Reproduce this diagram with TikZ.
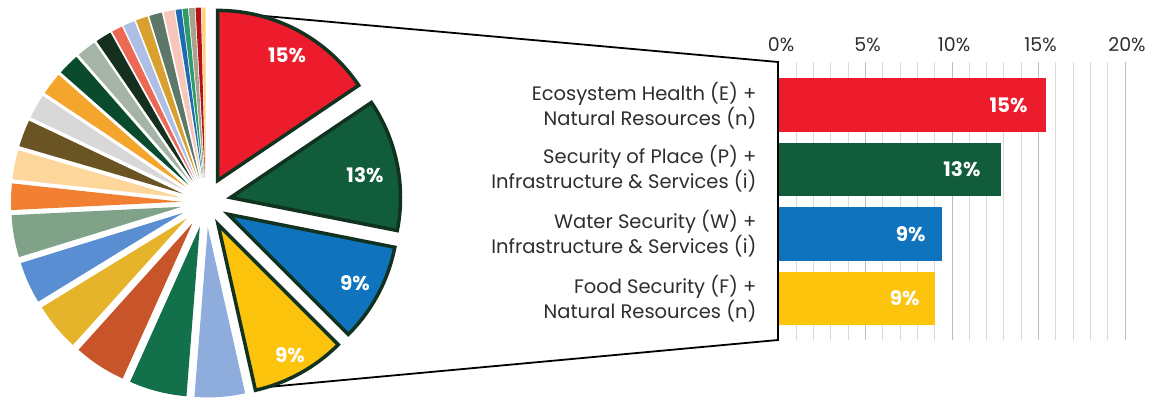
\documentclass[tikz,border=0pt]{standalone}
\usepackage{fontspec}
\setmainfont{Poppins}
\usetikzlibrary{calc}
\definecolor{c1}{HTML}{FFD27F}
\definecolor{c2}{HTML}{B5121B}
\definecolor{c3}{HTML}{A8A28C}
\definecolor{c4}{HTML}{2F9B6B}
\definecolor{c5}{HTML}{1F6BB0}
\definecolor{c6}{HTML}{F7C6BA}
\definecolor{c7}{HTML}{5D7868}
\definecolor{c8}{HTML}{D8A02E}
\definecolor{c9}{HTML}{ADBFE5}
\definecolor{c10}{HTML}{EC6A55}
\definecolor{c11}{HTML}{15301F}
\definecolor{c12}{HTML}{A5B4A6}
\definecolor{c13}{HTML}{0A4A2D}
\definecolor{c14}{HTML}{F4A52B}
\definecolor{c15}{HTML}{D8D8D8}
\definecolor{c16}{HTML}{6B5424}
\definecolor{c17}{HTML}{FDD69C}
\definecolor{c18}{HTML}{F18033}
\definecolor{c19}{HTML}{7FA289}
\definecolor{c20}{HTML}{5A8ED3}
\definecolor{c21}{HTML}{E5B42B}
\definecolor{c22}{HTML}{C8552A}
\definecolor{c23}{HTML}{12704A}
\definecolor{c24}{HTML}{8EADDD}
\definecolor{myred}{HTML}{EC1C2D}
\definecolor{mygreen}{HTML}{115C3A}
\definecolor{myblue}{HTML}{0F73BD}
\definecolor{myyellow}{HTML}{FDC40E}
\definecolor{outl}{HTML}{10321F}
\definecolor{txt}{HTML}{2E2E2E}
\definecolor{gridminor}{HTML}{DADADA}
\definecolor{gridmajor}{HTML}{BDBDBD}
\begin{document}
\begin{tikzpicture}[x=1pt,y=1pt,
  pielabel/.style={text=white,font=\fontsize{20}{22}\selectfont\bfseries},
  barlabel/.style={text=white,font=\fontsize{20}{22}\selectfont\bfseries,anchor=east},
  catlabel/.style={text=txt,font=\fontsize{19.5}{25}\selectfont,align=right,anchor=east},
  axislabel/.style={text=txt,font=\fontsize{19}{21}\selectfont},
  zoombox/.style={fill=white,draw=black,line width=1.8pt,line join=miter},
  bigslice/.style={draw=outl,line width=3.5pt,line join=miter}]
\useasboundingbox (0,0) rectangle (1153,397);
\coordinate (C) at (206,194.5);
% zoom trapezoid
\coordinate (z1) at (220,385);
\coordinate (z2) at (778,335);
\coordinate (z3) at (778,57);
\coordinate (z4) at (257,9);
\draw[zoombox] (z1) -- (z2) -- (z3) -- (z4);
% small slices
\foreach \a/\b/\c in {90/91.4/c1,91.4/93.2/c2,93.2/95.2/c3,95.2/97.1/c4,97.1/99.1/c5,
  99.1/102.8/c6,102.8/107.2/c7,107.2/111.3/c8,111.3/115.3/c9,115.3/119/c10,
  119/124.5/c11,124.5/131.2/c12,131.2/138.6/c13,138.6/146.3/c14,146.3/154.6/c15,
  154.6/163.8/c16,163.8/173.8/c17,173.8/182.8/c18,182.8/197.2/c19,197.2/211.5/c20,
  211.5/228/c21,228/245.8/c22,245.8/265.5/c23,265.5/282.7/c24}{
  \pgfmathsetmacro\m{(\a+\b)/2}
  \fill[\c] ($(C)+(\m:25pt)$) -- +(\a:170pt) arc[start angle=\a,end angle=\b,radius=170pt] -- cycle;
}
% big slices
\foreach \a/\b/\c in {34/90/myred,-11.2/34/mygreen,-45/-11.2/myblue,-77.3/-45/myyellow}{
  \pgfmathsetmacro\m{(\a+\b)/2}
  \filldraw[bigslice,fill=\c] ($(C)+(\m:25pt)$) -- +(\a:170pt) arc[start angle=\a,end angle=\b,radius=170pt] -- cycle;
}
\node[pielabel] (p1) at (287,342) {15\%};
\node[pielabel] (p2) at (365,222) {13\%};
\node[pielabel] (p3) at (355,114) {9\%};
\node[pielabel] (p4) at (290,42) {9\%};
% grid
\foreach \k in {1,...,20}{
  \pgfmathtruncatemacro\r{mod(\k,5)}
  \ifnum\r=0
    \draw[gridmajor,line width=1pt] (779+17.3*\k,57) -- (779+17.3*\k,335);
  \else
    \draw[gridminor,line width=1pt] (779+17.3*\k,57) -- (779+17.3*\k,335);
  \fi
}
\foreach \j/\t in {0/0,1/5,2/10,3/15,4/20}{
  \node[axislabel] (ax\j) at (781+86.5*\j,352) {\t\%};
}
% bars
\fill[myred] (779,265.5) rectangle (1045.5,319);
\fill[mygreen] (779,201) rectangle (1000.5,254.5);
\fill[myblue] (779,136.5) rectangle (941.5,190);
\fill[myyellow] (779,72) rectangle (934.5,125.5);
\node[barlabel] (b1) at (1031,292) {15\%};
\node[barlabel] (b2) at (984,227.5) {13\%};
\node[barlabel] (b3) at (929,163) {9\%};
\node[barlabel] (b4) at (923,98.5) {9\%};
% category labels
\node[catlabel] (l1) at (760,291.5) {Ecosystem Health (E) +\\Natural Resources (n)};
\node[catlabel] (l2) at (760,228) {Security of Place (P) +\\Infrastructure \& Services (i)};
\node[catlabel] (l3) at (760,163) {Water Security (W) +\\Infrastructure \& Services (i)};
\node[catlabel] (l4) at (760,98.5) {Food Security (F) +\\Natural Resources (n)};
\end{tikzpicture}
\end{document}
